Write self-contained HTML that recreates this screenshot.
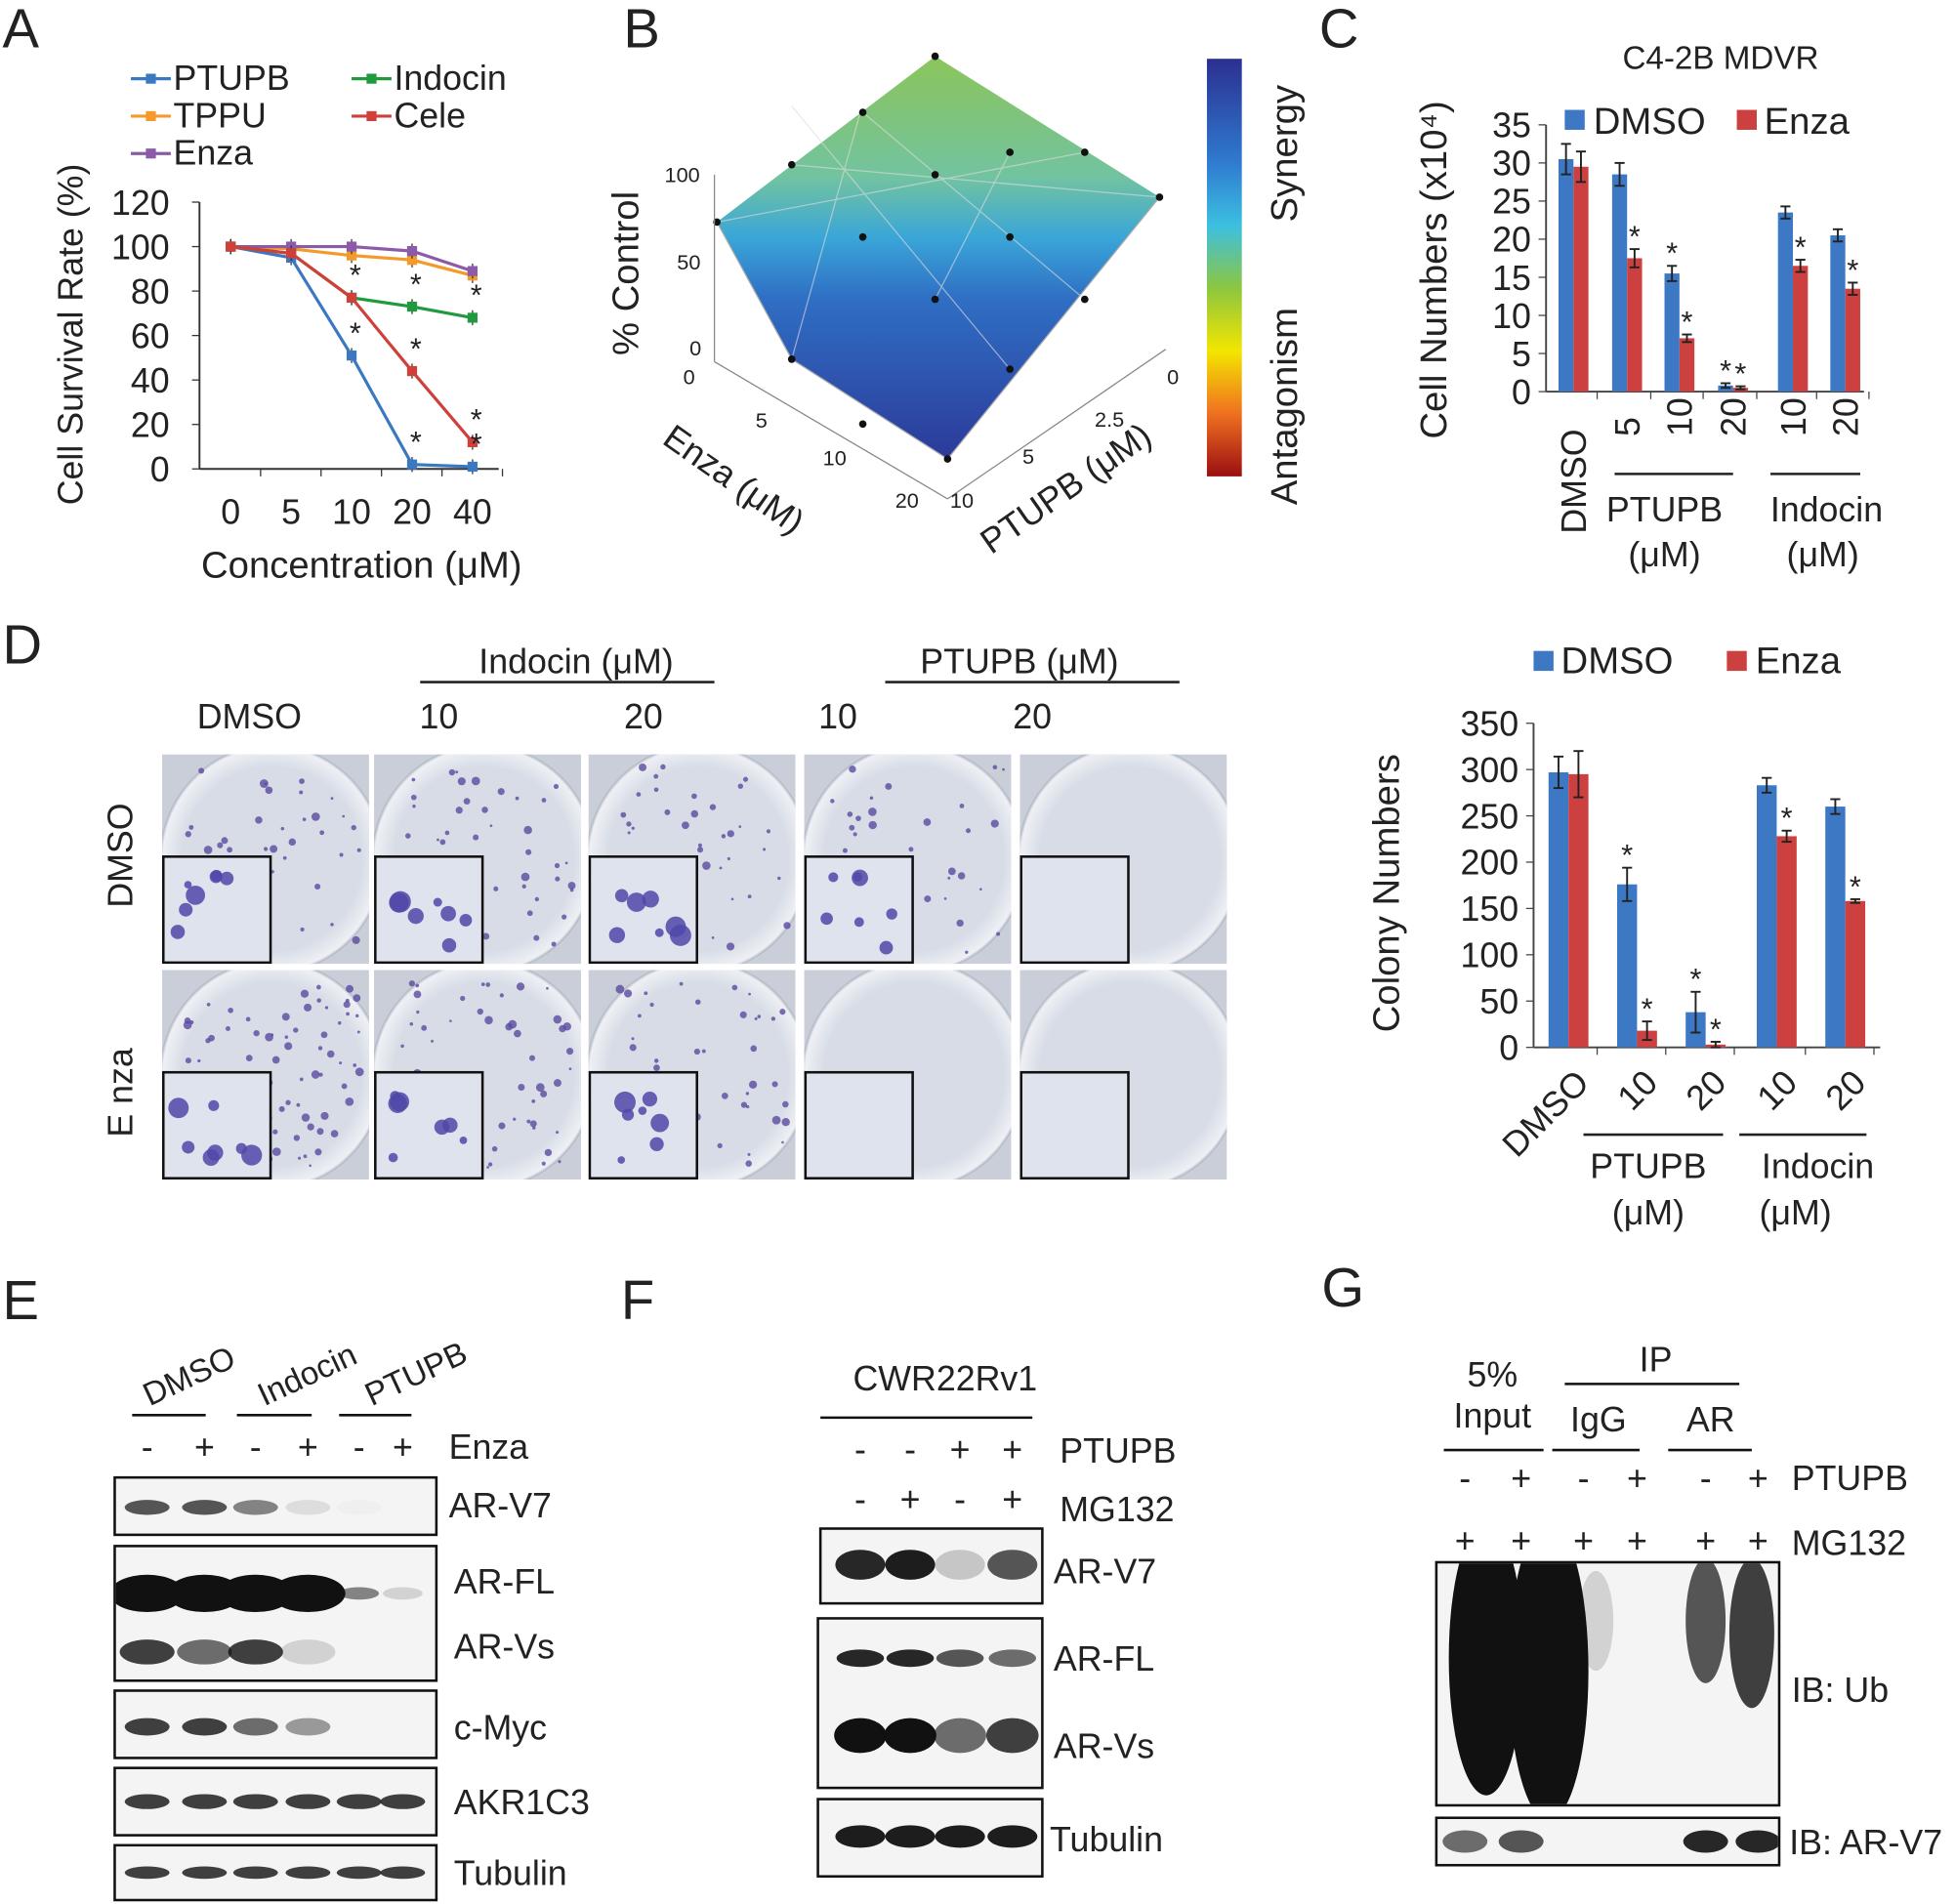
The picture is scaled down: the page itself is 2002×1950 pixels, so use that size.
<!DOCTYPE html>
<html><head><meta charset="utf-8"><style>
html,body{margin:0;padding:0;background:#fff}
svg{display:block}
text{font-family:"Liberation Sans",sans-serif;fill:#222}
</style></head><body>
<svg id="fig" width="2002" height="1950" viewBox="0 0 1568 1527" xmlns="http://www.w3.org/2000/svg">
<defs>
<linearGradient id="cbar" x1="0" y1="0" x2="0" y2="1">
<stop offset="0" stop-color="#2b2f8f"/><stop offset="0.25" stop-color="#2f7bd0"/><stop offset="0.4" stop-color="#3cc0e0"/><stop offset="0.55" stop-color="#8dc63f"/><stop offset="0.7" stop-color="#f2e600"/><stop offset="0.85" stop-color="#f07020"/><stop offset="1" stop-color="#9a0f12"/></linearGradient>
<linearGradient id="surf" x1="0" y1="0" x2="0" y2="1">
<stop offset="0" stop-color="#8cc55a"/><stop offset="0.3" stop-color="#72c3a0"/><stop offset="0.45" stop-color="#3aa6d8"/><stop offset="0.6" stop-color="#2f6fc4"/><stop offset="1" stop-color="#2c3a99"/></linearGradient>
<radialGradient id="dish"><stop offset="0.8" stop-color="#d7dce6"/><stop offset="0.97" stop-color="#eef0f4"/><stop offset="1" stop-color="#a9b0bf"/></radialGradient>
</defs>

<g font-size="44">
<text x="2" y="38">A</text><text x="500" y="38">B</text><text x="1058" y="38">C</text>
<text x="2" y="532">D</text><text x="2" y="1058">E</text><text x="498" y="1058">F</text><text x="1060" y="1048">G</text>
</g>

<g id="panelA"></g>
<g id="panelC"></g>
<g id="panelD2"></g>

<g>
<polygon points="575,178 750,45 930,158 760,368 635,288" fill="url(#surf)"/>
<polyline points="575,178 635,288 760,368 930,158" fill="none" stroke="#aaa" stroke-width="1"/>
<g stroke="#ddd" stroke-width="1" fill="none" opacity="0.6">
<line x1="635" y1="85" x2="810" y2="296"/><line x1="692" y1="90" x2="870" y2="240"/>
<line x1="690" y1="90" x2="635" y2="288"/><line x1="810" y1="122" x2="750" y2="240"/>
<line x1="575" y1="178" x2="870" y2="122"/><line x1="635" y1="132" x2="930" y2="158"/>
</g>
<g fill="#111">
<circle cx="575" cy="178" r="3"/><circle cx="750" cy="45" r="3"/><circle cx="930" cy="158" r="3"/><circle cx="760" cy="368" r="3"/><circle cx="635" cy="288" r="3"/><circle cx="692" cy="90" r="3"/><circle cx="635" cy="132" r="3"/><circle cx="692" cy="190" r="3"/><circle cx="750" cy="240" r="3"/><circle cx="810" cy="296" r="3"/><circle cx="870" cy="240" r="3"/><circle cx="810" cy="122" r="3"/><circle cx="870" cy="122" r="3"/><circle cx="750" cy="140" r="3"/><circle cx="810" cy="190" r="3"/><circle cx="692" cy="340" r="3"/>
</g>
<g stroke="#888" fill="none"><line x1="573" y1="140" x2="573" y2="290"/><line x1="573" y1="290" x2="760" y2="400"/><line x1="760" y1="400" x2="935" y2="280"/></g>
<g font-size="17"><text x="533" y="146">100</text><text x="543" y="216">50</text><text x="553" y="285">0</text>
<text x="548" y="308">0</text><text x="606" y="343">5</text><text x="660" y="373">10</text><text x="718" y="407">20</text>
<text x="762" y="407">10</text><text x="820" y="372">5</text><text x="878" y="342">2.5</text><text x="936" y="308">0</text></g>
<text font-size="30" transform="translate(512,285) rotate(-90)">% Control</text>
<text font-size="28" transform="translate(530,355) rotate(35)">Enza (μM)</text>
<text font-size="28" transform="translate(795,445) rotate(-35)">PTUPB (μM)</text>
<rect x="968" y="47" width="28" height="335" fill="url(#cbar)"/>
<text font-size="30" transform="translate(1040,178) rotate(-90)">Synergy</text>
<text font-size="30" transform="translate(1040,405) rotate(-90)">Antagonism</text>
</g>

<g id="dishes">
<text x="200" y="584" font-size="28" text-anchor="middle">DMSO</text>
<text x="384" y="540" font-size="28">Indocin (μM)</text>
<line x1="337" y1="547" x2="573" y2="547" stroke="#222" stroke-width="2"/>
<text x="738" y="540" font-size="28">PTUPB (μM)</text>
<line x1="710" y1="547" x2="946" y2="547" stroke="#222" stroke-width="2"/>
<text x="352" y="584" font-size="28" text-anchor="middle">10</text><text x="516" y="584" font-size="28" text-anchor="middle">20</text>
<text x="672" y="584" font-size="28" text-anchor="middle">10</text><text x="828" y="584" font-size="28" text-anchor="middle">20</text>
<text font-size="28" transform="translate(106,728) rotate(-90)">DMSO</text>
<text font-size="28" transform="translate(106,912) rotate(-90)">E nza</text>
</g>

<g id="blots"></g>
</svg>
<script>
const NS="http://www.w3.org/2000/svg";
function el(p,tag,attrs,txt){const e=document.createElementNS(NS,tag);for(const k in attrs)e.setAttribute(k,attrs[k]);if(txt!==undefined)e.textContent=txt;p.appendChild(e);return e;}
const defs=document.querySelector('defs');let clipN=0;
function clipRect(x,y,w,h){const id='c'+(clipN++);const cp=el(defs,'clipPath',{id});el(cp,'rect',{x,y,width:w,height:h});return id;}

const concLabels=["0","5","10","20","40"];
const seriesNames=["PTUPB","TPPU","Enza","Indocin","Cele"];
const ptupbVals=[100,95,51,2,1];
const tppuVals=[100,99,96,94,87];
const enzaVals=[100,100,100,98,89];
const indocinVals=[100,97,77,73,68];
const celeVals=[100,97,77,44,12];
const yTicksA=[0,20,40,60,80,100,120];
const cGroups=["DMSO","5","10","20","10","20"];
const cDmso=[30.5,28.5,15.5,0.8,23.5,20.5];
const cEnza=[29.5,17.5,7.0,0.5,16.5,13.5];
const cDmsoErr=[2,1.5,1,0.3,0.8,0.8];
const cEnzaErr=[2,1.2,0.5,0.2,0.8,0.8];
const yTicksC=[0,5,10,15,20,25,30,35];
const dGroups=["DMSO","10","20","10","20"];
const dDmso=[297,176,38,283,260];
const dEnza=[295,18,3,228,158];
const dDmsoErr=[17,18,22,8,8];
const dEnzaErr=[25,10,3,6,2];
const yTicksD=[0,50,100,150,200,250,300,350];

(function(){
const g=document.getElementById('panelA');
const x0=160,x1=400,yb=376,yt=162;
const xs=i=>185+i*48.5, ys=v=>yb-(v/120)*(yb-yt);
el(g,'line',{x1:x0,y1:yt,x2:x0,y2:yb,stroke:'#333','stroke-width':1.5});
el(g,'line',{x1:x0,y1:yb,x2:x1,y2:yb,stroke:'#333','stroke-width':1.5});
yTicksA.forEach(t=>{el(g,'line',{x1:x0-6,y1:ys(t),x2:x0,y2:ys(t),stroke:'#333'});const tx=el(g,'text',{x:x0-24,y:ys(t)+10,'font-size':28,'text-anchor':'end'},t);});
concLabels.forEach((c,i)=>{el(g,'line',{x1:xs(i)+24,y1:yb,x2:xs(i)+24,y2:yb+6,stroke:'#333'});const tx=el(g,'text',{x:xs(i),y:420,'font-size':28,'text-anchor':'middle'},c);});
el(g,'text',{x:290,y:463,'font-size':30,'text-anchor':'middle'},'Concentration (μM)');
el(g,'text',{'font-size':28,transform:'translate(66,405) rotate(-90)'},'Cell Survival Rate (%)');
const all=[ptupbVals,tppuVals,enzaVals,indocinVals,celeVals];
const cols=["#3a78c2","#f39a2a","#8b5aa8","#1f9a3e","#d0403a"];
all.forEach((vals,s)=>{
 const pts=vals.map((v,i)=>xs(i)+','+ys(v)).join(' ');
 const pl=el(g,'polyline',{points:pts,fill:'none',stroke:cols[s],'stroke-width':2.5});
 
 
 vals.forEach((v,i)=>{el(g,'line',{x1:xs(i),y1:ys(v)-6,x2:xs(i),y2:ys(v)+6,stroke:'#333'});const m=el(g,'rect',{x:xs(i)-4,y:ys(v)-4,width:8,height:8,fill:cols[s]});});
});
[[2,ptupbVals],[3,ptupbVals],[4,ptupbVals],[2,celeVals],[3,celeVals],[4,celeVals],[3,indocinVals],[4,indocinVals]].forEach(([i,v])=>el(g,'text',{x:xs(i)+3,y:ys(v[i])-10,'font-size':24,'text-anchor':'middle'},'*'));
const lg=[[105,72,0],[105,102,1],[105,132,2],[282,72,3],[282,102,4]];
lg.forEach(([x,y,s])=>{const lgE=el(g,'g',{});
 el(lgE,'line',{x1:x,y1:y-9,x2:x+32,y2:y-9,stroke:cols[s],'stroke-width':2.5});el(lgE,'rect',{x:x+12,y:y-13,width:8,height:8,fill:cols[s]});
 el(lgE,'text',{x:x+34,y:y,'font-size':28},seriesNames[s]);});
})();

function barChart(g,opt){
 const {ax,ayb,ayt,xEnd,ymax,ticks,groups,gx,a,b,ea,eb,bw}=opt;
 const ys=v=>ayb-(v/ymax)*(ayb-ayt);
 el(g,'line',{x1:ax,y1:ayt,x2:ax,y2:ayb,stroke:'#444','stroke-width':1.5});
 el(g,'line',{x1:ax,y1:ayb,x2:xEnd,y2:ayb,stroke:'#444','stroke-width':1.5});
 ticks.forEach(t=>{el(g,'line',{x1:ax-6,y1:ys(t),x2:ax,y2:ys(t),stroke:'#444'});const tx=el(g,'text',{x:ax-12,y:ys(t)+10,'font-size':28,'text-anchor':'end'},t);});
 groups.forEach((gn,i)=>{const cx=gx(i);
  [[a,ea,'#3d78c4',-bw],[b,eb,'#cc4040',0]].forEach(([vals,er,c,off],k)=>{const v=vals[i];
   const r=el(g,'rect',{x:cx+off,y:ys(v),width:bw,height:ayb-ys(v),fill:c});
   
   const ex=cx+off+bw/2;el(g,'line',{x1:ex,y1:ys(v+er[i]),x2:ex,y2:ys(v-er[i]),stroke:'#222','stroke-width':1.5});
   el(g,'line',{x1:ex-4,y1:ys(v+er[i]),x2:ex+4,y2:ys(v+er[i]),stroke:'#222','stroke-width':1.5});
   el(g,'line',{x1:ex-4,y1:ys(v-er[i]),x2:ex+4,y2:ys(v-er[i]),stroke:'#222','stroke-width':1.5});
   if(opt.star[k][i])el(g,'text',{x:ex,y:ys(v+er[i])-2,'font-size':24,'text-anchor':'middle'},'*');
  });
  el(g,'line',{x1:cx+bw+7,y1:ayb,x2:cx+bw+7,y2:ayb+6,stroke:'#444'});
 });
 return ys;
}
(function(){
const g=document.getElementById('panelC');
const gx=i=>[1262,1305,1347,1390,1438,1480][i];
barChart(g,{ax:1240,ayb:314,ayt:100,xEnd:1495,ymax:35,ticks:yTicksC,groups:cGroups,gx,a:cDmso,b:cEnza,ea:cDmsoErr,eb:cEnzaErr,bw:12,
 star:[[0,0,1,1,0,0],[0,1,1,1,1,1]]});
el(g,'text',{x:1380,y:55,'font-size':26,'text-anchor':'middle'},'C4-2B MDVR');
el(g,'rect',{x:1255,y:88,width:16,height:16,fill:'#3d78c4'});el(g,'text',{x:1278,y:107,'font-size':30},'DMSO');
el(g,'rect',{x:1393,y:88,width:16,height:16,fill:'#cc4040'});el(g,'text',{x:1415,y:107,'font-size':30},'Enza');
el(g,'text',{'font-size':30,transform:'translate(1160,352) rotate(-90)'},'Cell Numbers (x10⁴)');
cGroups.forEach((c,i)=>{const t=el(g,'text',{'font-size':28,transform:`translate(${gx(i)+10},${c=='DMSO'?428:350}) rotate(-90)`},c);});
el(g,'line',{x1:1295,y1:380,x2:1390,y2:380,stroke:'#222','stroke-width':2});
el(g,'line',{x1:1420,y1:380,x2:1492,y2:380,stroke:'#222','stroke-width':2});
el(g,'text',{x:1335,y:418,'font-size':28,'text-anchor':'middle'},'PTUPB');el(g,'text',{x:1335,y:454,'font-size':28,'text-anchor':'middle'},'(μM)');
el(g,'text',{x:1465,y:418,'font-size':28,'text-anchor':'middle'},'Indocin');el(g,'text',{x:1462,y:454,'font-size':28,'text-anchor':'middle'},'(μM)');
})();
(function(){
const g=document.getElementById('panelD2');
const gx=i=>[1258,1313,1368,1425,1480][i];
barChart(g,{ax:1230,ayb:840,ayt:580,xEnd:1508,ymax:350,ticks:yTicksD,groups:dGroups,gx,a:dDmso,b:dEnza,ea:dDmsoErr,eb:dEnzaErr,bw:16,
 star:[[0,1,1,0,0],[0,1,1,1,1]]});
el(g,'rect',{x:1230,y:522,width:16,height:16,fill:'#3d78c4'});el(g,'text',{x:1252,y:540,'font-size':30},'DMSO');
el(g,'rect',{x:1385,y:522,width:16,height:16,fill:'#cc4040'});el(g,'text',{x:1408,y:540,'font-size':30},'Enza');
el(g,'text',{'font-size':30,transform:'translate(1122,828) rotate(-90)'},'Colony Numbers');
dGroups.forEach((c,i)=>{const t=el(g,'text',{'font-size':28,'text-anchor':'end',transform:`translate(${gx(i)+18},${870}) rotate(-45)`},c);});
el(g,'line',{x1:1270,y1:910,x2:1382,y2:910,stroke:'#222','stroke-width':2});
el(g,'line',{x1:1395,y1:910,x2:1497,y2:910,stroke:'#222','stroke-width':2});
el(g,'text',{x:1322,y:945,'font-size':28,'text-anchor':'middle'},'PTUPB');el(g,'text',{x:1322,y:982,'font-size':28,'text-anchor':'middle'},'(μM)');
el(g,'text',{x:1458,y:945,'font-size':28,'text-anchor':'middle'},'Indocin');el(g,'text',{x:1440,y:982,'font-size':28,'text-anchor':'middle'},'(μM)');
})();
(function(){
const g=document.getElementById('dishes');
const xs=[130,300,472,645,818],rows=[605,778],dens=[[40,45,40,35,0],[80,60,45,0,0]];
let seed=7;const rnd=()=>{seed=(seed*9301+49297)%233280;return seed/233280;};
rows.forEach((y,r)=>xs.forEach((x,c)=>{
 const cid=clipRect(x,y,166,168);
 const d=el(g,'g',{'clip-path':`url(#${cid})`});
 el(d,'rect',{x:x,y:y,width:166,height:168,fill:'#c9ced8'});
 el(d,'ellipse',{cx:x+88,cy:y+84,rx:90,ry:92,fill:'url(#dish)'});
 for(let k=0;k<dens[r][c];k++){el(d,'circle',{cx:x+20+rnd()*140,cy:y+10+rnd()*150,r:1+rnd()*2.5,fill:'#5a4aa0',opacity:0.8});}
 el(d,'rect',{x:x+1,y:y+82,width:86,height:85,fill:'#dfe3ee',stroke:'#111','stroke-width':2});
 if(dens[r][c]>0)for(let k=0;k<7;k++){el(d,'circle',{cx:x+12+rnd()*64,cy:y+94+rnd()*64,r:3+rnd()*6,fill:'#5048a8',opacity:0.85});}
}));
})();
(function(){
const g=document.getElementById('blots');
let cur=g;
function box(x,y,w,h){const r=el(g,'rect',{x,y,width:w,height:h,fill:'#f4f4f4',stroke:'#111','stroke-width':2});
 const cid=clipRect(x+1,y+1,w-2,h-2);cur=el(g,'g',{'clip-path':`url(#${cid})`});}
function band(x,y,w,h,op){el(cur,'ellipse',{cx:x,cy:y,rx:w,ry:h,fill:'#111',opacity:op});}
function T(x,y,s,t,a){el(g,'text',{x,y,'font-size':s,'text-anchor':a||'start'},t);}
const ex=[118,164,205,247,288,323];
['DMSO','Indocin','PTUPB'].forEach((t,i)=>{el(g,'text',{'font-size':26,transform:`translate(${[120,212,298][i]},${1128}) rotate(-25)`},t);});
[[106,165],[190,250],[272,330]].forEach(([a,b])=>el(g,'line',{x1:a,y1:1135,x2:b,y2:1135,stroke:'#111','stroke-width':2}));
ex.forEach((x,i)=>T(x,1170,28,i%2?'+':'-','middle'));T(360,1170,28,'Enza');
box(92,1185,258,46);[0.7,0.7,0.5,0.1,0.02,0].forEach((o,i)=>band(ex[i],1209,18,6,o));
box(92,1240,258,108);[1,1,1,1,0.5,0.15].forEach((o,i)=>band(ex[i],1278,i<4?30:16,i<4?15:5,o));
[0.8,0.6,0.8,0.15,0,0].forEach((o,i)=>band(ex[i],1325,22,10,o));
box(92,1356,258,54);[0.8,0.8,0.6,0.4,0,0].forEach((o,i)=>band(ex[i],1385,18,7,o));
box(92,1418,258,54);ex.forEach(x=>band(x,1445,18,6,0.8));
box(92,1480,258,44);ex.forEach(x=>band(x,1502,18,5,0.8));
T(360,1217,28,'AR-V7');T(364,1278,28,'AR-FL');T(364,1330,28,'AR-Vs');T(364,1395,28,'c-Myc');T(364,1455,28,'AKR1C3');T(364,1512,28,'Tubulin');
const fx=[690,730,770,812];
T(758,1115,28,'CWR22Rv1','middle');el(g,'line',{x1:658,y1:1137,x2:828,y2:1137,stroke:'#111','stroke-width':2});
['-','-','+','+'].forEach((s,i)=>T(fx[i],1172,28,s,'middle'));['-','+','-','+'].forEach((s,i)=>T(fx[i],1212,28,s,'middle'));
T(850,1173,28,'PTUPB');T(850,1220,28,'MG132');
box(658,1226,178,60);[0.9,0.95,0.2,0.7].forEach((o,i)=>band(fx[i],1255,20,12,o));
box(656,1298,180,136);[0.9,0.9,0.7,0.6].forEach((o,i)=>band(fx[i],1330,19,7,o));
[1,1,0.6,0.8].forEach((o,i)=>band(fx[i],1392,21,14,o));
box(656,1443,180,62);fx.forEach(x=>band(x,1473,20,9,0.95));
T(845,1270,28,'AR-V7');T(845,1340,28,'AR-FL');T(845,1410,28,'AR-Vs');T(842,1485,28,'Tubulin');
const gxs=[1175,1220,1270,1313,1368,1410];
T(1197,1112,28,'5%','middle');T(1197,1145,28,'Input','middle');el(g,'line',{x1:1158,y1:1163,x2:1238,y2:1163,stroke:'#111','stroke-width':2});
T(1328,1100,28,'IP','middle');el(g,'line',{x1:1255,y1:1110,x2:1395,y2:1110,stroke:'#111','stroke-width':2});
T(1282,1148,28,'IgG','middle');T(1372,1148,28,'AR','middle');
el(g,'line',{x1:1245,y1:1163,x2:1315,y2:1163,stroke:'#111','stroke-width':2});el(g,'line',{x1:1338,y1:1163,x2:1405,y2:1163,stroke:'#111','stroke-width':2});
['-','+','-','+','-','+'].forEach((s,i)=>T(gxs[i],1195,28,s,'middle'));gxs.forEach(x=>T(x,1245,28,'+','middle'));
T(1437,1195,28,'PTUPB');T(1437,1247,28,'MG132');
box(1152,1253,275,195);
band(1192,1330,30,110,1);band(1242,1340,32,120,1);band(1280,1300,14,40,0.15);
band(1368,1300,16,50,0.7);band(1405,1310,18,60,0.8);
box(1152,1458,275,38);[0.6,0.7,0,0,0.9,0.9].forEach((o,i)=>band(gxs[i],1477,18,9,o));
T(1437,1365,28,'IB: Ub');T(1435,1487,28,'IB: AR-V7');
})();
</script>
</body></html>
